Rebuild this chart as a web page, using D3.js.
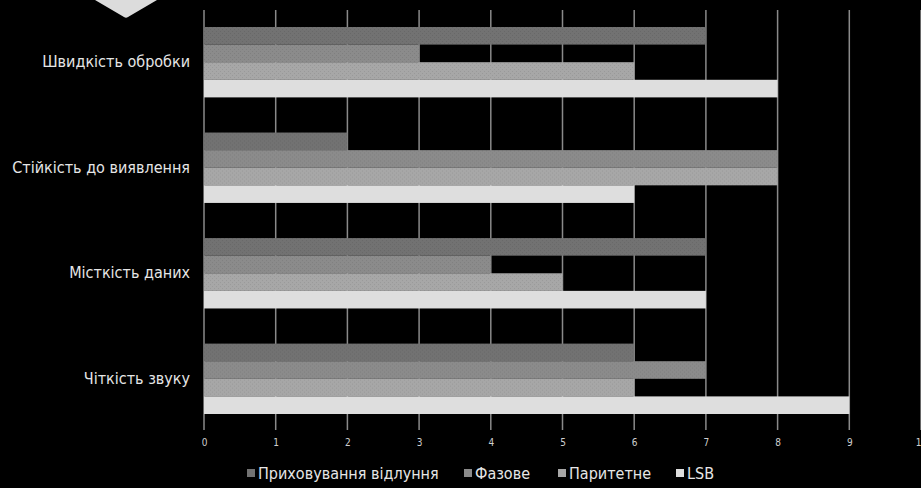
<!doctype html>
<html lang="uk">
<head>
  <meta charset="UTF-8">
  <title>bar chart</title>
  <style>
    * { padding: 0; margin: 0; }
    body { background: #000; }
    svg { display: block; background: #000; }
    text { font-family: "DejaVu Sans Condensed", "Liberation Sans Narrow", sans-serif; }
  </style>
  <script src="https://cdnjs.cloudflare.com/ajax/libs/d3/7.8.5/d3.min.js"></script>
</head>
<body>
  <svg width="921" height="488"></svg>
  <script>
    var categories = ["Швидкість обробки", "Стійкість до виявлення", "Місткість даних", "Чіткість звуку"];
    var seriesNames = ["Приховування відлуння", "Фазове", "Паритетне", "LSB"];
    var echoValues = [7, 2, 7, 6];
    var phaseValues = [3, 8, 4, 7];
    var parityValues = [6, 8, 5, 6];
    var lsbValues = [8, 6, 7, 9];
    var tickValues = [0, 1, 2, 3, 4, 5, 6, 7, 8, 9, 10];

    var series = [echoValues, phaseValues, parityValues, lsbValues];
    var colors = ["#727272", "#8b8b8b", "#a7a7a7", "#dedede"];
    var fontFam = "'DejaVu Sans Condensed', 'Liberation Sans Narrow', sans-serif";

    var svg = d3.select("svg");

    // textures like the original dithered fills
    var defs = svg.append("defs");
    colors.forEach(function (c, i) {
      var p = defs.append("pattern")
        .attr("id", "pat" + i)
        .attr("width", 4).attr("height", 4)
        .attr("patternUnits", "userSpaceOnUse");
      p.append("rect").attr("width", 4).attr("height", 4).attr("fill", c);
      if (i < 3) {
        var d = d3.color(c).darker(0.25);
        p.append("rect").attr("x", 0).attr("y", 0).attr("width", 1).attr("height", 1).attr("fill", d);
        p.append("rect").attr("x", 2).attr("y", 2).attr("width", 1).attr("height", 1).attr("fill", d);
      }
    });

    // decoration in the top left corner
    svg.append("path")
      .attr("d", "M95,0 L157,0 L128,17 Q126,18.5 124,17 Z")
      .attr("fill", "#dcdcdc");

    var x = d3.scaleLinear().domain([0, 10]).range([204, 921]);
    var y = d3.scaleBand().domain(categories).range([27, 414]).paddingInner(0.333).paddingOuter(0);
    var y1 = d3.scaleBand().domain(d3.range(seriesNames.length)).range([0, y.bandwidth()]);

    // grid lines
    svg.append("g")
      .selectAll("line")
      .data(tickValues)
      .enter()
      .append("line")
      .attr("x1", function (d) { return x(d); })
      .attr("x2", function (d) { return x(d); })
      .attr("y1", 10)
      .attr("y2", 430)
      .attr("stroke", "#8a8a8a")
      .attr("stroke-width", 1.5);

    // bars
    var groups = svg.append("g")
      .selectAll("g")
      .data(categories)
      .enter()
      .append("g")
      .attr("transform", function (d) { return "translate(0," + y(d) + ")"; });

    groups.selectAll("rect")
      .data(function (d, ci) {
        return series.map(function (s, si) { return { si: si, v: s[ci] }; });
      })
      .enter()
      .append("rect")
      .attr("x", x(0))
      .attr("y", function (d) { return y1(d.si); })
      .attr("width", function (d) { return x(d.v) - x(0); })
      .attr("height", y1.bandwidth())
      .attr("fill", function (d) { return "url(#pat" + d.si + ")"; });

    // x axis labels
    var xAxis = d3.axisBottom(x)
      .tickValues(tickValues)
      .tickSize(0)
      .tickPadding(9)
      .tickFormat(d3.format("d"));

    var gx = svg.append("g")
      .attr("transform", "translate(0,430)")
      .call(xAxis);
    gx.select(".domain").remove();
    gx.selectAll("text")
      .attr("fill", "#cfcfcf")
      .style("font-size", "10px")
      .style("font-family", fontFam);

    // y axis labels
    var yAxis = d3.axisLeft(y).tickSize(0).tickPadding(14);
    var gy = svg.append("g")
      .attr("transform", "translate(" + x(0) + ",0)")
      .call(yAxis);
    gy.select(".domain").remove();
    gy.selectAll("text")
      .attr("fill", "#e6e6e6")
      .style("font-size", "16px")
      .style("font-family", fontFam);

    // legend
    var legendX = [247, 464, 558, 676];
    var legend = svg.append("g")
      .selectAll("g")
      .data(seriesNames)
      .enter()
      .append("g")
      .attr("transform", function (d, i) { return "translate(" + legendX[i] + ",469)"; });
    legend.append("rect")
      .attr("width", 8).attr("height", 8)
      .attr("fill", function (d, i) { return colors[i]; });
    legend.append("text")
      .attr("x", 11)
      .attr("y", 4)
      .attr("dy", "0.35em")
      .attr("fill", "#e6e6e6")
      .style("font-size", "16px")
      .text(function (d) { return d; });
  </script>
</body>
</html>
